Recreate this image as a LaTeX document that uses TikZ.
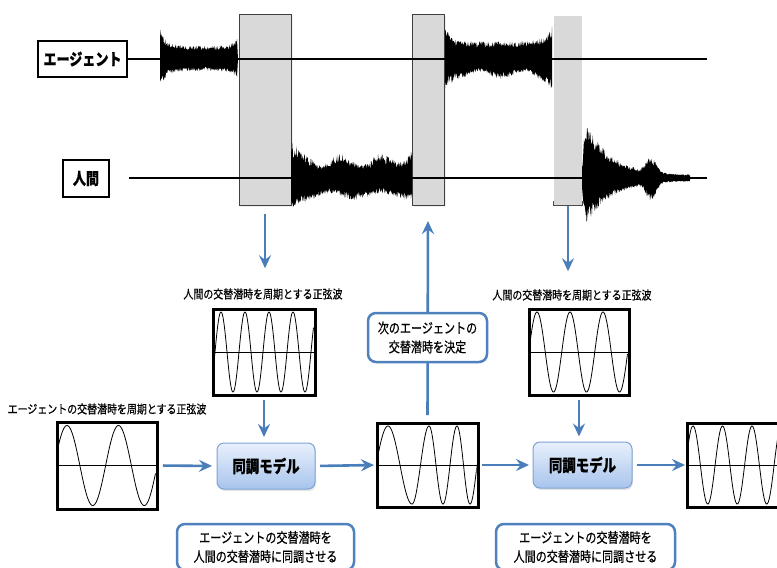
\documentclass[tikz,border=0pt]{standalone}
\usepackage{fontspec}
\newfontfamily\jpn[FakeStretch=0.83,FakeBold=0.6]{Noto Sans CJK JP}
\newfontfamily\jpc[FakeStretch=0.79,FakeBold=0.6]{Noto Sans CJK JP}
\usetikzlibrary{arrows.meta,shadows,calc}
\definecolor{arrblue}{HTML}{4A7EBB}
\definecolor{boxblue}{HTML}{4F81BD}
\definecolor{graybox}{HTML}{D9D9D9}
\definecolor{mtop}{HTML}{E8F0FC}
\definecolor{mbot}{HTML}{A8C4EC}
\definecolor{mborder}{HTML}{7FA3D6}
\tikzset{
 flow/.style={draw=arrblue, line width=2.6pt, -{Stealth[length=13pt,width=12pt,inset=4.5pt]}},
 speaker/.style={draw=black, line width=2.8pt, fill=white, inner sep=0pt, font=\jpc\bfseries\fontsize{16.5}{18}\selectfont},
 gapbox/.style={fill=graybox, draw=black!75, line width=1pt, inner sep=0pt, drop shadow={opacity=0.12, shadow xshift=1.5pt, shadow yshift=-2pt}},
 wavebox/.style={draw=black, line width=3pt, inner sep=0pt, minimum width=100pt, minimum height=86pt},
 midline/.style={black, line width=0.9pt},
 sinewave/.style={black, line width=0.8pt},
 model/.style={rounded corners=7pt, draw=mborder, line width=1pt, top color=mtop, bottom color=mbot, minimum width=98pt, minimum height=46pt, inner sep=0pt, font=\jpc\bfseries\fontsize{17}{20}\selectfont, drop shadow={opacity=0.2, shadow xshift=1pt, shadow yshift=-2pt}},
 note/.style={rounded corners=8pt, draw=boxblue, line width=2.5pt, fill=white, align=center, font=\jpc\fontsize{14}{19}\selectfont, inner sep=0pt},
 capt/.style={font=\jpn\fontsize{12}{14}\selectfont, inner sep=0pt},
 speech/.style={fill=black, draw=none},
 trackline/.style={black, line width=1.4pt},
}
\begin{document}
\begin{tikzpicture}[x=1pt,y=-1pt]
\pgfmathsetseed{42}
\clip (0,0) rectangle (777,568);
\fill[white] (0,0) rectangle (777,568);

% gray gap boxes
\node[gapbox, minimum width=52pt, minimum height=191pt] (g1) at (265,109.5) {};
\node[gapbox, minimum width=32pt, minimum height=191pt] (g2) at (428,109.5) {};
\node[fill=graybox, inner sep=0pt, minimum width=28pt, minimum height=189pt] (g3) at (568,110.5) {};
\draw[black!70, line width=1pt] ($(g3.south west)+(0,-4)$) -- (g3.south west) -- (g3.south east) -- ++(0,-4);

% speaker labels
\node[speaker, minimum width=89pt, minimum height=36pt] (la) at (82.5,59) {エージェント};
\node[speaker, minimum width=46pt, minimum height=37pt] (lh) at (86,178.5) {人間};
\coordinate (aend) at (707,59);
\coordinate (hstart) at (129,178);
\coordinate (hend) at (707,178);
\draw[trackline] (la.east) -- (aend);
\draw[trackline] (hstart) -- (hend);

% speech waveforms
\fill[speech] (160,59) -- plot[domain=160:237,samples=160] (\x,{59-(12+16*exp(-(\x-160)/6)+8*exp((\x-237)/5))*(0.7+0.4*rnd)}) -- (238,59) -- plot[domain=237:160,samples=160] (\x,{59+(11+16*exp(-(\x-160)/6)+7*exp((\x-237)/5))*(0.7+0.4*rnd)}) -- cycle;
\fill[speech] (291,178) -- plot[domain=291:412,samples=240] (\x,{178-(16+17*exp(-(\x-291)/8)+8*exp((\x-412)/12)+5*sin(9*(\x-291)))*(0.65+0.5*rnd)}) -- (412,178) -- plot[domain=412:291,samples=240] (\x,{178+(17+11*exp(-(\x-291)/8)+3*sin(7*(\x-291)))*(0.7+0.4*rnd)}) -- cycle;
\fill[speech] (445,59) -- plot[domain=445:552,samples=210] (\x,{59-(16+16*exp(-(\x-445)/6)+13*exp((\x-552)/8))*(0.7+0.4*rnd)}) -- (552,59) -- plot[domain=552:445,samples=210] (\x,{59+(15+13*exp(-(\x-445)/6)+11*exp((\x-552)/8)+3*sin(8*(\x-445)))*(0.7+0.4*rnd)}) -- cycle;
\fill[speech] (582,178) -- plot[domain=582:690,samples=220] (\x,{178-min(1,(\x-581)/4)*(2.5+45*exp(-max(0,\x-588)/25)+13*exp(-((\x-651)/7)*((\x-651)/7)))*(0.7+0.4*rnd)}) -- (690,178) -- plot[domain=690:582,samples=220] (\x,{178+min(1,(\x-581)/4)*(2.5+38*exp(-max(0,\x-588)/25)+15*exp(-((\x-651)/7)*((\x-651)/7)))*(0.7+0.4*rnd)}) -- cycle;

% captions
\node[capt] (lab1) at (263,294) {人間の交替潜時を周期とする正弦波};
\node[capt] (lab2) at (572,295) {人間の交替潜時を周期とする正弦波};
\node[capt] (lab3) at (107,409) {エージェントの交替潜時を周期とする正弦波};

% sine boxes: curves first
\draw[sinewave] plot[domain=214.5:313.5,samples=300] (\x,{352-40*cos(15*(\x-221))});
\draw[sinewave] plot[domain=530.5:627.5,samples=250] (\x,{352-40*cos(10.909*(\x-537))});
\draw[sinewave] plot[domain=58.5:155.5,samples=200] (\x,{465.5-40*cos(6.99*(\x-67))});
\begin{scope}
\clip (378.5,424) rectangle (476.5,506);
\foreach \xa/\xb/\k in {364/388/-1, 388/412/0, 412/429/1, 429/443/2, 443/457/3, 457/470/4, 470/484/5}
  \draw[sinewave] plot[domain=\xa:\xb,samples=40] (\x,{465-39*cos(180*(\k+(\x-\xa)/(\xb-\xa)))});
\end{scope}
\draw[sinewave] plot[domain=688.5:780,samples=250] (\x,{465-39*cos(12.203*(\x-693))});

\node[wavebox, minimum width=102pt] (s1) at (264,352) {};
\node[wavebox] (s2) at (579,352) {};
\node[wavebox, minimum height=87pt] (s0) at (107,465.5) {};
\node[wavebox, minimum width=101pt, minimum height=84pt] (s3) at (427.5,465) {};
\node[wavebox, minimum height=84pt] (s4) at (737,465) {};
\foreach \s in {s0,s1,s2,s3,s4}
  \draw[midline] (\s.west) -- (\s.east);

% model boxes
\node[model] (m1) at (266,466) {同調モデル};
\node[model, minimum width=99pt] (m2) at (582.5,465) {同調モデル};

% connectors
\draw[flow, shorten <=8pt, shorten >=20pt] (g1.south) -- (g1.south |- lab1.north);
\draw[flow, shorten <=6.5pt, shorten >=15.5pt] (s3.north) -- (g2.south);
\draw[flow, shorten <=1pt, shorten >=18pt] (g3.south) -- (g3.south |- lab2.north);
\draw[flow, shorten <=3pt, shorten >=5.5pt] (s1.south) -- (s1.south |- m1.north);
\draw[flow, shorten <=3pt, shorten >=5pt] (s2.south) -- (s2.south |- m2.north);
\draw[flow, shorten <=4.5pt, shorten >=4.5pt] (s0.east) -- (m1.west);
\draw[flow, shorten <=4.5pt, shorten >=1.5pt] (m1.east) -- (s3.west);
\draw[flow, shorten <=2.5pt, shorten >=3.5pt] (s3.east) -- (m2.west);
\draw[flow, shorten <=4.5pt, shorten >=0.5pt] (m2.east) -- (s4.west);

% notes
\node[note, minimum width=119pt, minimum height=49pt] (t1) at (427.5,337.5) {次のエージェントの\\交替潜時を決定};
\node[note, minimum width=177pt, minimum height=46pt] (t2) at (265.5,547) {エージェントの交替潜時を\\人間の交替潜時に同調させる};
\node[note, minimum width=179pt, minimum height=46pt] (t3) at (585.5,547) {エージェントの交替潜時を\\人間の交替潜時に同調させる};
\end{tikzpicture}
\end{document}
